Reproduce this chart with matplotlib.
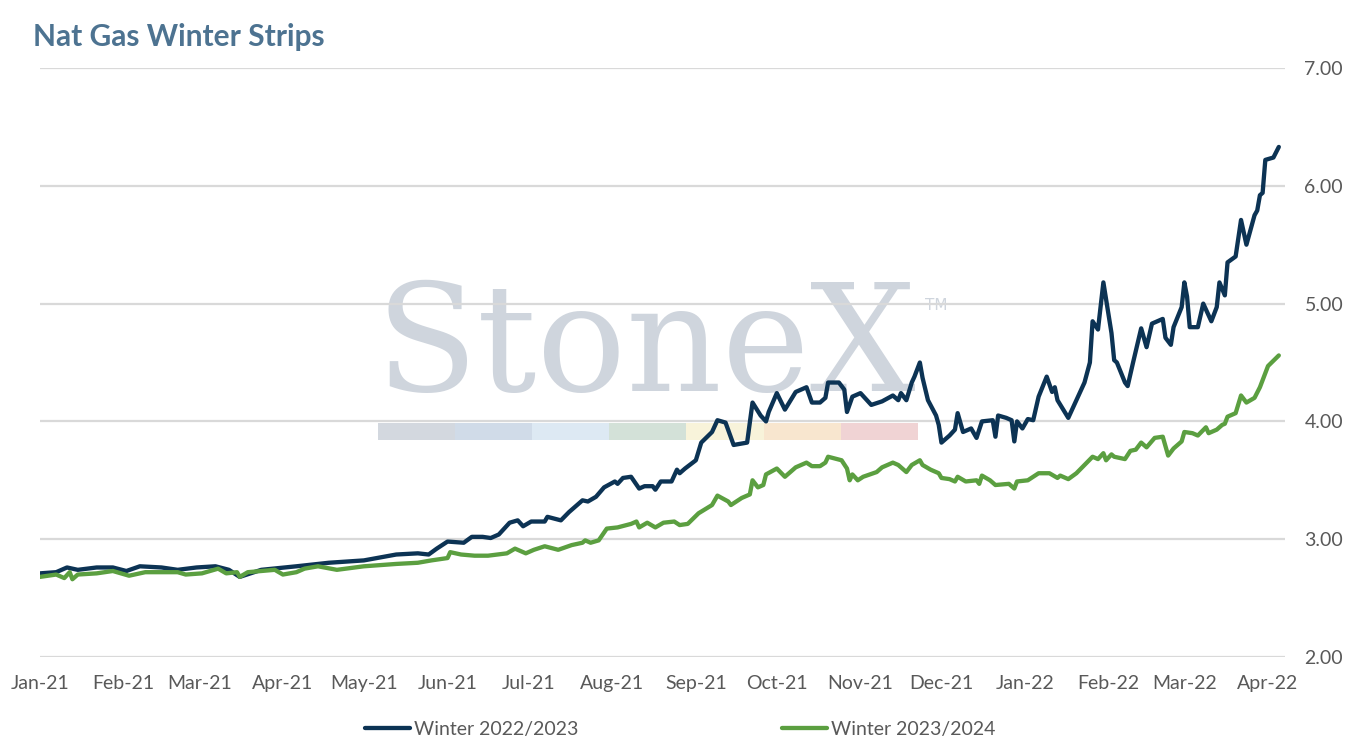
import pandas as pd
import matplotlib
matplotlib.use("Agg")
import matplotlib.pyplot as plt
import matplotlib.dates as mdates
from matplotlib.patches import Rectangle
from datetime import datetime

# winter 2022/2023 strip
nav_dates = ['2021-01-01','2021-01-07','2021-01-11','2021-01-15','2021-01-22','2021-01-28','2021-02-02','2021-02-07','2021-02-15','2021-02-21',
             '2021-02-28','2021-03-07','2021-03-12','2021-03-16','2021-03-24','2021-04-06','2021-04-18','2021-05-01','2021-05-13','2021-05-21',
             '2021-05-25','2021-05-28','2021-06-01','2021-06-07','2021-06-10','2021-06-14','2021-06-17','2021-06-20','2021-06-24','2021-06-27',
             '2021-06-29','2021-07-02','2021-07-07','2021-07-08','2021-07-13','2021-07-16','2021-07-21','2021-07-23','2021-07-26','2021-07-29',
             '2021-08-02','2021-08-03','2021-08-05','2021-08-08','2021-08-11','2021-08-13','2021-08-16','2021-08-17','2021-08-19','2021-08-23',
             '2021-08-25','2021-08-26','2021-08-28','2021-09-01','2021-09-03','2021-09-07','2021-09-09','2021-09-12','2021-09-15','2021-09-20',
             '2021-09-22','2021-09-25','2021-09-27','2021-09-28','2021-10-01','2021-10-04','2021-10-08','2021-10-12','2021-10-14','2021-10-17',
             '2021-10-19','2021-10-20','2021-10-24','2021-10-26','2021-10-27','2021-10-29','2021-11-01','2021-11-05','2021-11-09','2021-11-13',
             '2021-11-15','2021-11-16','2021-11-18','2021-11-20','2021-11-21','2021-11-23','2021-11-24','2021-11-26','2021-11-29','2021-11-30',
             '2021-12-01','2021-12-04','2021-12-06','2021-12-07','2021-12-09','2021-12-12','2021-12-14','2021-12-16','2021-12-20','2021-12-21',
             '2021-12-22','2021-12-25','2021-12-27','2021-12-28','2021-12-29','2021-12-31','2022-01-02','2022-01-04','2022-01-06','2022-01-09',
             '2022-01-11','2022-01-12','2022-01-13','2022-01-17','2022-01-20','2022-01-23','2022-01-25','2022-01-26','2022-01-28','2022-01-30',
             '2022-02-02','2022-02-03','2022-02-04','2022-02-07','2022-02-08','2022-02-10','2022-02-13','2022-02-15','2022-02-17','2022-02-21',
             '2022-02-22','2022-02-24','2022-02-25','2022-02-28','2022-03-01','2022-03-02','2022-03-03','2022-03-06','2022-03-08','2022-03-11',
             '2022-03-13','2022-03-14','2022-03-16','2022-03-17','2022-03-20','2022-03-22','2022-03-24','2022-03-27','2022-03-28','2022-03-29',
             '2022-03-30','2022-03-31','2022-04-03','2022-04-05']
nav_vals = [2.71,2.72,2.76,2.74,2.76,2.76,2.73,2.77,2.76,2.74,
            2.76,2.77,2.74,2.68,2.74,2.77,2.80,2.82,2.87,2.88,
            2.87,2.92,2.98,2.97,3.02,3.02,3.01,3.04,3.14,3.16,
            3.11,3.15,3.15,3.19,3.16,3.23,3.33,3.32,3.36,3.44,
            3.49,3.47,3.52,3.53,3.43,3.45,3.45,3.42,3.49,3.49,
            3.59,3.56,3.60,3.67,3.82,3.91,4.01,3.99,3.80,3.82,
            4.16,4.05,4.00,4.08,4.24,4.10,4.25,4.29,4.16,4.16,
            4.20,4.33,4.33,4.27,4.08,4.21,4.24,4.14,4.17,4.22,
            4.18,4.24,4.18,4.33,4.38,4.50,4.37,4.18,4.05,3.97,
            3.82,3.88,3.93,4.07,3.91,3.94,3.86,4.00,4.01,3.87,
            4.05,4.03,4.01,3.83,4.00,3.94,4.02,4.01,4.21,4.38,
            4.25,4.29,4.18,4.03,4.18,4.33,4.50,4.85,4.78,5.18,
            4.75,4.52,4.50,4.33,4.30,4.50,4.79,4.63,4.83,4.87,
            4.71,4.65,4.80,4.97,5.18,5.06,4.80,4.80,5.00,4.85,
            4.97,5.18,5.07,5.35,5.40,5.71,5.50,5.75,5.79,5.92,
            5.94,6.22,6.24,6.33]

# winter 2023/2024 strip
grn_dates = ['2021-01-01','2021-01-07','2021-01-10','2021-01-12','2021-01-13','2021-01-15','2021-01-22','2021-01-28','2021-02-03','2021-02-09',
             '2021-02-21','2021-02-24','2021-03-02','2021-03-08','2021-03-11','2021-03-15','2021-03-16','2021-03-19','2021-03-29','2021-04-01',
             '2021-04-06','2021-04-09','2021-04-14','2021-04-21','2021-05-01','2021-05-07','2021-05-13','2021-05-21','2021-05-26','2021-06-01',
             '2021-06-02','2021-06-06','2021-06-11','2021-06-16','2021-06-23','2021-06-26','2021-06-30','2021-07-03','2021-07-07','2021-07-12',
             '2021-07-17','2021-07-21','2021-07-22','2021-07-24','2021-07-27','2021-07-30','2021-08-03','2021-08-08','2021-08-10','2021-08-11',
             '2021-08-14','2021-08-17','2021-08-20','2021-08-24','2021-08-26','2021-08-29','2021-09-02','2021-09-07','2021-09-09','2021-09-13',
             '2021-09-14','2021-09-16','2021-09-18','2021-09-21','2021-09-22','2021-09-24','2021-09-26','2021-09-27','2021-10-01','2021-10-04',
             '2021-10-08','2021-10-12','2021-10-14','2021-10-17','2021-10-19','2021-10-20','2021-10-25','2021-10-27','2021-10-28','2021-10-29',
             '2021-10-31','2021-11-02','2021-11-07','2021-11-09','2021-11-13','2021-11-15','2021-11-18','2021-11-20','2021-11-23','2021-11-24',
             '2021-11-27','2021-11-30','2021-12-01','2021-12-04','2021-12-06','2021-12-07','2021-12-10','2021-12-14','2021-12-15','2021-12-16',
             '2021-12-19','2021-12-21','2021-12-26','2021-12-28','2021-12-29','2022-01-02','2022-01-06','2022-01-10','2022-01-13','2022-01-14',
             '2022-01-17','2022-01-20','2022-01-23','2022-01-26','2022-01-28','2022-01-30','2022-01-31','2022-02-02','2022-02-03','2022-02-07',
             '2022-02-09','2022-02-11','2022-02-13','2022-02-15','2022-02-18','2022-02-21','2022-02-23','2022-02-25','2022-02-28','2022-03-01',
             '2022-03-04','2022-03-06','2022-03-09','2022-03-10','2022-03-13','2022-03-15','2022-03-16','2022-03-17','2022-03-20','2022-03-22',
             '2022-03-24','2022-03-27','2022-03-29','2022-04-01','2022-04-05']
grn_vals = [2.68,2.70,2.67,2.72,2.66,2.70,2.71,2.73,2.69,2.72,
            2.72,2.70,2.71,2.75,2.71,2.72,2.68,2.72,2.74,2.70,
            2.72,2.75,2.77,2.74,2.77,2.78,2.79,2.80,2.82,2.84,
            2.89,2.87,2.86,2.86,2.88,2.92,2.88,2.91,2.94,2.91,
            2.95,2.97,2.99,2.97,2.99,3.09,3.10,3.13,3.15,3.10,
            3.14,3.10,3.14,3.15,3.12,3.13,3.22,3.29,3.37,3.32,
            3.29,3.32,3.35,3.38,3.50,3.44,3.46,3.55,3.60,3.53,
            3.61,3.65,3.62,3.62,3.65,3.70,3.67,3.60,3.50,3.55,
            3.50,3.53,3.57,3.61,3.65,3.63,3.57,3.63,3.67,3.63,
            3.59,3.56,3.52,3.51,3.49,3.53,3.49,3.50,3.47,3.54,
            3.50,3.46,3.47,3.43,3.49,3.50,3.56,3.56,3.52,3.54,
            3.51,3.56,3.63,3.70,3.68,3.73,3.67,3.72,3.70,3.68,
            3.75,3.76,3.82,3.78,3.86,3.87,3.71,3.77,3.83,3.91,
            3.90,3.88,3.95,3.90,3.93,3.97,3.98,4.04,4.07,4.22,
            4.16,4.20,4.29,4.47,4.56]

series_names = ['Winter 2022/2023', 'Winter 2023/2024']
y_ticks = [2.0, 3.0, 4.0, 5.0, 6.0, 7.0]

navy = '#0c3354'
green = '#5b9f40'
txt = '#595959'
grid = '#d9d9d9'

plt.rcParams['font.family'] = ['Lato', 'DejaVu Sans']

W, H = 1351, 750
fig = plt.figure(figsize=(W / 100, H / 100), dpi=100)
ax = fig.add_axes([40 / W, 1 - 657 / H, (1285 - 40) / W, (657 - 68) / H])
ax.patch.set_alpha(0)

ax.plot(pd.to_datetime(nav_dates), nav_vals, color=navy, lw=3.1, label=series_names[0],
        solid_joinstyle='round', solid_capstyle='round', zorder=3)
ax.plot(pd.to_datetime(grn_dates), grn_vals, color=green, lw=3.1, label=series_names[1],
        solid_joinstyle='round', solid_capstyle='round', zorder=3)

ax.set_xlim(datetime(2021, 1, 1), datetime(2022, 4, 7, 7))
ax.set_ylim(2, 7)
ax.set_yticks(y_ticks)
ax.yaxis.set_major_formatter(plt.FormatStrFormatter('%.2f'))
ax.yaxis.tick_right()
ax.xaxis.set_major_locator(mdates.MonthLocator())
ax.xaxis.set_major_formatter(mdates.DateFormatter('%b-%y'))
ax.tick_params(axis='y', length=0, pad=14, labelsize=14, labelcolor=txt)
ax.tick_params(axis='x', length=0, pad=13, labelsize=14, labelcolor=txt)
ax.grid(axis='y', color=grid, lw=1.6, zorder=1)
ax.set_axisbelow(True)
for s in ax.spines.values():
    s.set_visible(False)

# stonex watermark behind the data
ax.text(376 / W, 1 - 391 / H, 'StoneX', transform=fig.transFigure, family='DejaVu Serif',
        fontsize=107, color='#cfd5dd', ha='left', va='baseline', zorder=0.2)
ax.text(925 / W, 1 - 310 / H, 'TM', transform=fig.transFigure, family='DejaVu Sans',
        fontsize=11, color='#cfd5dd', ha='left', va='baseline', zorder=0.2)
bar_cols = ['#d3d8df', '#d0dbe8', '#dde9f3', '#d3e1d8', '#f8f3da', '#f8e6cf', '#f0d3d4']
for i, c in enumerate(bar_cols):
    ax.add_artist(Rectangle(((378 + i * 77.1) / W, 1 - 440 / H), 77.1 / W, 17 / H,
                            transform=fig.transFigure, color=c, lw=0, zorder=0.2))

fig.text(33 / W, 1 - 46 / H, 'Nat Gas Winter Strips', fontsize=21.5, fontweight='bold',
         color='#4d7391', ha='left', va='baseline')

fig.legend(loc='center', bbox_to_anchor=(680 / W, 1 - 729 / H), ncol=2, frameon=False,
           fontsize=14, labelcolor=txt, handlelength=2.3, handletextpad=0.2,
           columnspacing=10.5)

fig.savefig('out.png', dpi=100)
